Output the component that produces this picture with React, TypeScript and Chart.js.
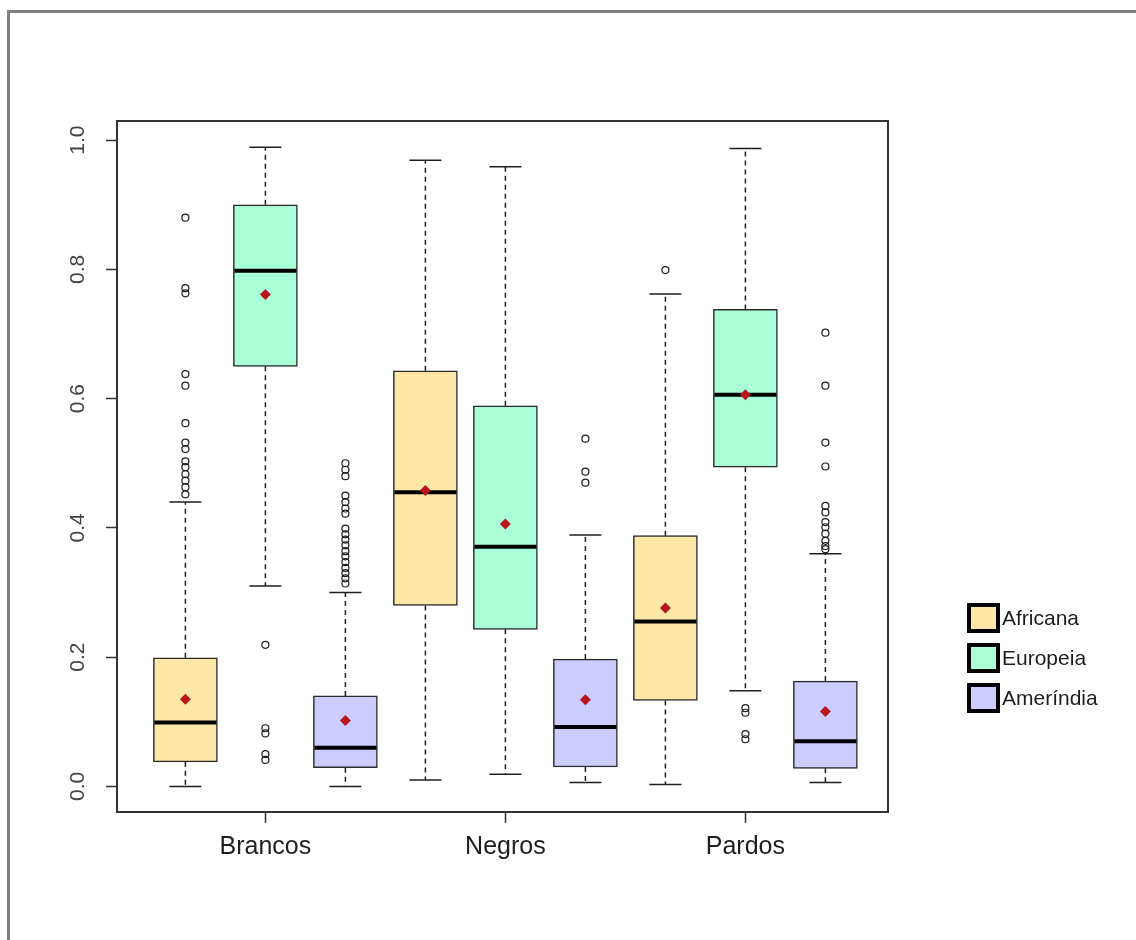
import React, { useEffect, useRef } from "react";
import { Chart, registerables } from "chart.js";

Chart.register(...registerables);

// Population groups and ancestry components
const groups = ["Brancos", "Negros", "Pardos"];
const ancestries = ["Africana", "Europeia", "Ameríndia"];
const ancestryColors = ["#FFE8A6", "#A8FFD8", "#CCCCFF"];

// Box statistics, one entry per box: group by group, ancestries in order
const whiskerLow = [0.0, 0.31, 0.0, 0.01, 0.019, 0.006, 0.003, 0.148, 0.006];
const quartile1 = [0.038, 0.65, 0.029, 0.28, 0.243, 0.03, 0.133, 0.494, 0.028];
const medians = [0.099, 0.798, 0.06, 0.455, 0.371, 0.092, 0.255, 0.606, 0.07];
const quartile3 = [0.199, 0.9, 0.14, 0.643, 0.589, 0.197, 0.388, 0.738, 0.163];
const whiskerHigh = [0.44, 0.989, 0.3, 0.969, 0.959, 0.389, 0.762, 0.987, 0.36];
const means = [0.135, 0.761, 0.102, 0.458, 0.406, 0.134, 0.276, 0.606, 0.116];

// Outlying observations for each box
const outliers: number[][] = [
  [0.88, 0.771, 0.763, 0.638, 0.62, 0.562, 0.532, 0.522, 0.503, 0.494, 0.483, 0.473, 0.463, 0.452],
  [0.219, 0.09, 0.082, 0.05, 0.041],
  [0.5, 0.49, 0.48, 0.45, 0.44, 0.43, 0.422, 0.399, 0.39, 0.382, 0.373, 0.364, 0.356, 0.347, 0.338, 0.33, 0.322, 0.314],
  [],
  [],
  [0.538, 0.487, 0.47],
  [0.799],
  [0.121, 0.114, 0.081, 0.073],
  [0.702, 0.62, 0.532, 0.495, 0.434, 0.424, 0.409, 0.401, 0.391, 0.38, 0.372, 0.367],
];

const yTicks = [0, 0.2, 0.4, 0.6, 0.8, 1.0];
const groupTicks = [2, 5, 8];

const FONT = "'Liberation Sans', Arial, Helvetica, sans-serif";
const INK = "#1e1e1e";

const slot = (g: number, a: number) => g * 3 + a + 1;
const boxIndex = (g: number, a: number) => g * 3 + a;

// Whiskers, caps and medians drawn right after each box dataset
const boxDetails = {
  id: "boxDetails",
  afterDatasetDraw(chart: any, args: any) {
    const meta = args.meta;
    if (meta.type !== "bar") return;
    const a = args.index;
    const ctx = chart.ctx;
    const xs = chart.scales.x;
    const ys = chart.scales.y;
    ctx.save();
    groups.forEach((_, g) => {
      const i = boxIndex(g, a);
      const el = meta.data[g];
      const cx = xs.getPixelForValue(slot(g, a));
      const half = el ? el.width / 2 : 32;
      const yLo = ys.getPixelForValue(whiskerLow[i]);
      const yQ1 = ys.getPixelForValue(quartile1[i]);
      const yQ3 = ys.getPixelForValue(quartile3[i]);
      const yHi = ys.getPixelForValue(whiskerHigh[i]);
      const yMed = ys.getPixelForValue(medians[i]);

      ctx.strokeStyle = INK;
      ctx.lineWidth = 1.5;
      ctx.setLineDash([5, 4]);
      ctx.beginPath();
      ctx.moveTo(cx, yQ3);
      ctx.lineTo(cx, yHi);
      ctx.moveTo(cx, yQ1);
      ctx.lineTo(cx, yLo);
      ctx.stroke();

      ctx.setLineDash([]);
      ctx.beginPath();
      ctx.moveTo(cx - half / 2, yHi);
      ctx.lineTo(cx + half / 2, yHi);
      ctx.moveTo(cx - half / 2, yLo);
      ctx.lineTo(cx + half / 2, yLo);
      ctx.stroke();

      ctx.strokeStyle = "#000";
      ctx.lineWidth = 4;
      ctx.beginPath();
      ctx.moveTo(cx - half + 1, yMed);
      ctx.lineTo(cx + half - 1, yMed);
      ctx.stroke();
    });
    ctx.restore();
  },
  afterDraw(chart: any) {
    const ctx = chart.ctx;
    const area = chart.chartArea;
    ctx.save();
    // plot frame
    ctx.strokeStyle = "#333";
    ctx.lineWidth = 2;
    ctx.strokeRect(area.left, area.top, area.right - area.left, area.bottom - area.top);

    // legend to the right of the plot
    const lx = area.right + 81;
    const ly = 605;
    const rowGap = 40;
    ancestries.forEach((name, a) => {
      const top = ly + a * rowGap;
      ctx.fillStyle = ancestryColors[a];
      ctx.fillRect(lx, top, 29, 26);
      ctx.strokeStyle = "#000";
      ctx.lineWidth = 4;
      ctx.strokeRect(lx, top, 29, 26);
      ctx.fillStyle = INK;
      ctx.font = `21px ${FONT}`;
      ctx.textAlign = "left";
      ctx.textBaseline = "middle";
      ctx.fillText(name, lx + 33, top + 14);
    });
    ctx.restore();
  },
};

export default function App() {
  const canvasRef = useRef<HTMLCanvasElement | null>(null);

  useEffect(() => {
    const canvas = canvasRef.current;
    if (!canvas) return;

    const boxSets = ancestries.map((name, a) => ({
      type: "bar" as const,
      label: name,
      order: 2,
      data: groups.map((_, g) => ({
        x: slot(g, a),
        y: [quartile1[boxIndex(g, a)], quartile3[boxIndex(g, a)]],
      })),
      backgroundColor: ancestryColors[a],
      borderColor: "#2a2a2a",
      borderWidth: 1.5,
      borderSkipped: false,
      barThickness: 64,
      grouped: false,
    }));

    const outlierPoints: { x: number; y: number }[] = [];
    groups.forEach((_, g) =>
      ancestries.forEach((__, a) =>
        outliers[boxIndex(g, a)].forEach((v) => outlierPoints.push({ x: slot(g, a), y: v }))
      )
    );

    const meanPoints: { x: number; y: number }[] = [];
    groups.forEach((_, g) =>
      ancestries.forEach((__, a) => meanPoints.push({ x: slot(g, a), y: means[boxIndex(g, a)] }))
    );

    const chart = new Chart(canvas, {
      type: "bar",
      data: {
        datasets: [
          ...boxSets,
          {
            type: "scatter" as const,
            label: "outliers",
            order: 1,
            data: outlierPoints,
            pointStyle: "circle",
            pointRadius: 3.5,
            pointBorderWidth: 1.2,
            pointBorderColor: INK,
            pointBackgroundColor: "rgba(0,0,0,0)",
          },
          {
            type: "scatter" as const,
            label: "means",
            order: 0,
            data: meanPoints,
            pointStyle: "rectRot",
            pointRadius: 5.5,
            pointBorderWidth: 0,
            pointBorderColor: "#B8161C",
            pointBackgroundColor: "#B8161C",
          },
        ] as any,
      },
      options: {
        responsive: false,
        animation: false,
        devicePixelRatio: 1,
        layout: { padding: { left: 0, top: 121, right: 248, bottom: 0 } },
        plugins: { legend: { display: false }, tooltip: { enabled: false } },
        scales: {
          x: {
            type: "linear",
            min: 0.145,
            max: 9.7825,
            offset: false,
            afterBuildTicks: (s: any) => {
              s.ticks = groupTicks.map((v) => ({ value: v }));
            },
            afterFit: (s: any) => {
              s.height = 128;
            },
            ticks: {
              autoSkip: false,
              maxRotation: 0,
              padding: 9,
              color: INK,
              font: { family: FONT, size: 25 },
              callback: (_v: any, i: number) => groups[i],
            },
            grid: {
              drawOnChartArea: false,
              offset: false,
              tickLength: 11,
              tickColor: "#333",
              tickWidth: 1.5,
            },
            border: { display: false },
          },
          y: {
            type: "linear",
            min: -0.0396,
            max: 1.0296,
            afterBuildTicks: (s: any) => {
              s.ticks = yTicks.map((v) => ({ value: v }));
            },
            afterFit: (s: any) => {
              s.width = 117;
            },
            ticks: {
              autoSkip: false,
              minRotation: 90,
              maxRotation: 90,
              crossAlign: "center",
              padding: 13,
              color: "#444",
              font: { family: FONT, size: 21 },
              callback: (v: any) => Number(v).toFixed(1),
            },
            grid: {
              drawOnChartArea: false,
              tickLength: 11,
              tickColor: "#333",
              tickWidth: 1.5,
            },
            border: { display: false },
          },
        },
      } as any,
      plugins: [boxDetails],
    });

    return () => chart.destroy();
  }, []);

  return (
    <div style={{ position: "fixed", left: 0, top: 0, width: 1136, height: 940, background: "#fff" }}>
      <div
        style={{
          position: "absolute",
          left: 7,
          top: 10,
          width: 1129,
          height: 930,
          boxSizing: "border-box",
          borderTop: "3px solid #7f7f7f",
          borderLeft: "3px solid #7f7f7f",
        }}
      />
      <canvas
        ref={canvasRef}
        width={1136}
        height={940}
        style={{ position: "absolute", left: 0, top: 0, width: 1136, height: 940 }}
      />
    </div>
  );
}
